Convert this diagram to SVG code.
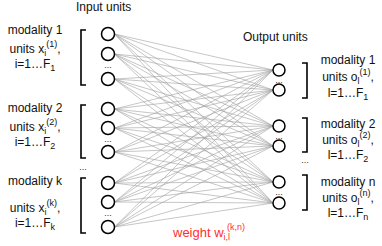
<svg xmlns="http://www.w3.org/2000/svg" width="382" height="246" viewBox="0 0 382 246">
<style>
text{font-family:"Liberation Sans",Arial,sans-serif;font-size:12px;fill:#111}
.lbl{text-anchor:middle}
.sub,.sup{font-size:9px}
.dots{font-size:9px;text-anchor:middle;fill:#333}
.unit{fill:#fff;stroke:#000;stroke-width:1.5}
.br{fill:none;stroke:#000;stroke-width:1.6}
.conn line{stroke:#a0a0a0;stroke-width:0.6}
.red{stroke:#f06a5a;stroke-width:1}
.redt{fill:#ff2e2e;font-size:13px}
</style>
<rect width="382" height="246" fill="#fff"/>
<g id="connectors" class="conn">
<line x1="114.5" y1="34" x2="273" y2="70"/><line x1="114.5" y1="34" x2="273" y2="90"/><line x1="114.5" y1="34" x2="273" y2="126"/><line x1="114.5" y1="34" x2="273" y2="146"/><line x1="114.5" y1="34" x2="273" y2="182"/><line x1="114.5" y1="34" x2="273" y2="203"/>
<line x1="114.5" y1="54" x2="273" y2="70"/><line x1="114.5" y1="54" x2="273" y2="90"/><line x1="114.5" y1="54" x2="273" y2="126"/><line x1="114.5" y1="54" x2="273" y2="146"/><line x1="114.5" y1="54" x2="273" y2="182"/><line x1="114.5" y1="54" x2="273" y2="203"/>
<line x1="114.5" y1="79" x2="273" y2="70"/><line x1="114.5" y1="79" x2="273" y2="90"/><line x1="114.5" y1="79" x2="273" y2="126"/><line x1="114.5" y1="79" x2="273" y2="146"/><line x1="114.5" y1="79" x2="273" y2="182"/><line x1="114.5" y1="79" x2="273" y2="203"/>
<line x1="114.5" y1="109" x2="273" y2="70"/><line x1="114.5" y1="109" x2="273" y2="90"/><line x1="114.5" y1="109" x2="273" y2="126"/><line x1="114.5" y1="109" x2="273" y2="146"/><line x1="114.5" y1="109" x2="273" y2="182"/><line x1="114.5" y1="109" x2="273" y2="203"/>
<line x1="114.5" y1="128" x2="273" y2="70"/><line x1="114.5" y1="128" x2="273" y2="90"/><line x1="114.5" y1="128" x2="273" y2="126"/><line x1="114.5" y1="128" x2="273" y2="146"/><line x1="114.5" y1="128" x2="273" y2="182"/><line x1="114.5" y1="128" x2="273" y2="203"/>
<line x1="114.5" y1="152" x2="273" y2="70"/><line x1="114.5" y1="152" x2="273" y2="90"/><line x1="114.5" y1="152" x2="273" y2="126"/><line x1="114.5" y1="152" x2="273" y2="146"/><line x1="114.5" y1="152" x2="273" y2="182"/><line x1="114.5" y1="152" x2="273" y2="203"/>
<line x1="114.5" y1="183" x2="273" y2="70"/><line x1="114.5" y1="183" x2="273" y2="90"/><line x1="114.5" y1="183" x2="273" y2="126"/><line x1="114.5" y1="183" x2="273" y2="146"/><line x1="114.5" y1="183" x2="273" y2="182"/><line x1="114.5" y1="183" x2="273" y2="203"/>
<line x1="114.5" y1="202" x2="273" y2="70"/><line x1="114.5" y1="202" x2="273" y2="90"/><line x1="114.5" y1="202" x2="273" y2="126"/><line x1="114.5" y1="202" x2="273" y2="146"/><line x1="114.5" y1="202" x2="273" y2="182"/>
<line x1="114.5" y1="227" x2="273" y2="70"/><line x1="114.5" y1="227" x2="273" y2="90"/><line x1="114.5" y1="227" x2="273" y2="126"/><line x1="114.5" y1="227" x2="273" y2="146"/><line x1="114.5" y1="227" x2="273" y2="182"/><line x1="114.5" y1="227" x2="273" y2="203"/>
<line class="red" x1="114.5" y1="202" x2="273" y2="203"/>
</g>
<text x="76" y="11">Input units</text>
<text x="243" y="41">Output units</text>
<g id="in-mod1">
<path class="br" d="M86,30H81V85H86"/>
<circle id="x1_1" class="unit" cx="108" cy="34" r="6.5"/>
<circle id="x1_2" class="unit" cx="108" cy="54" r="6.5"/>
<text class="dots" x="108" y="68">...</text>
<circle id="x1_F" class="unit" cx="108" cy="79" r="6.5"/>
<text class="lbl" x="35" y="34">modality 1</text>
<text class="lbl" x="35" y="53">units x<tspan class="sub" dy="3">i</tspan><tspan class="sup" dy="-9">(1)</tspan><tspan dy="6">,</tspan></text>
<text class="lbl" x="35" y="68">i=1…F<tspan class="sub" dy="3">1</tspan></text>
</g>
<g id="in-mod2">
<path class="br" d="M86,105H81V158H86"/>
<circle id="x2_1" class="unit" cx="108" cy="109" r="6.5"/>
<circle id="x2_2" class="unit" cx="108" cy="128" r="6.5"/>
<text class="dots" x="108" y="142">...</text>
<circle id="x2_F" class="unit" cx="108" cy="152" r="6.5"/>
<text class="lbl" x="35" y="112">modality 2</text>
<text class="lbl" x="35" y="131">units x<tspan class="sub" dy="3">i</tspan><tspan class="sup" dy="-9">(2)</tspan><tspan dy="6">,</tspan></text>
<text class="lbl" x="35" y="146">i=1…F<tspan class="sub" dy="3">2</tspan></text>
</g>
<text class="dots" x="83" y="170">...</text>
<g id="in-modk">
<path class="br" d="M86,178H81V233H86"/>
<circle id="xk_1" class="unit" cx="108" cy="183" r="6.5"/>
<circle id="xk_2" class="unit" cx="108" cy="202" r="6.5"/>
<text class="dots" x="108" y="216">...</text>
<circle id="xk_F" class="unit" cx="108" cy="227" r="6.5"/>
<text class="lbl" x="35" y="185">modality k</text>
<text class="lbl" x="35" y="212">units x<tspan class="sub" dy="3">i</tspan><tspan class="sup" dy="-9">(k)</tspan><tspan dy="6">,</tspan></text>
<text class="lbl" x="35" y="227">i=1…F<tspan class="sub" dy="3">k</tspan></text>
</g>
<g id="out-mod1">
<circle id="o1_1" class="unit" cx="279" cy="70" r="6"/>
<text class="dots" x="279" y="83">...</text>
<circle id="o1_F" class="unit" cx="279" cy="90" r="6"/>
<path class="br" d="M302,63H307V98H302"/>
<text class="lbl" x="348" y="64">modality 1</text>
<text class="lbl" x="348" y="81">units o<tspan class="sub" dy="3">l</tspan><tspan class="sup" dy="-9">(1)</tspan><tspan dy="6">,</tspan></text>
<text class="lbl" x="348" y="97">l=1…F<tspan class="sub" dy="3">1</tspan></text>
</g>
<g id="out-mod2">
<circle id="o2_1" class="unit" cx="279" cy="126" r="6"/>
<text class="dots" x="279" y="139">...</text>
<circle id="o2_F" class="unit" cx="279" cy="146" r="6"/>
<path class="br" d="M302,118H307V152H302"/>
<text class="lbl" x="348" y="128">modality 2</text>
<text class="lbl" x="348" y="144">units o<tspan class="sub" dy="3">l</tspan><tspan class="sup" dy="-9">(2)</tspan><tspan dy="6">,</tspan></text>
<text class="lbl" x="348" y="159">l=1…F<tspan class="sub" dy="3">2</tspan></text>
</g>
<text class="dots" x="305" y="163">...</text>
<g id="out-modn">
<circle id="on_1" class="unit" cx="279" cy="182" r="6"/>
<text class="dots" x="279" y="195">...</text>
<circle id="on_F" class="unit" cx="279" cy="203" r="6"/>
<path class="br" d="M302,175H307V210H302"/>
<text class="lbl" x="348" y="186">modality n</text>
<text class="lbl" x="348" y="202">units o<tspan class="sub" dy="3">l</tspan><tspan class="sup" dy="-9">(n)</tspan><tspan dy="6">,</tspan></text>
<text class="lbl" x="348" y="217">l=1…F<tspan class="sub" dy="3">n</tspan></text>
</g>
<text class="redt" x="173" y="237">weight w<tspan class="sub" dy="3">i,l</tspan><tspan class="sup" dx="-3" dy="-10">(k,n)</tspan></text>
</svg>
